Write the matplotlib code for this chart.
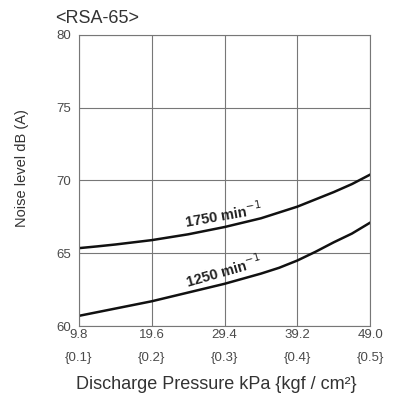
import numpy as np
import matplotlib
matplotlib.use('Agg')
import matplotlib.pyplot as plt

plt.rcParams['font.family'] = ['Liberation Sans', 'DejaVu Sans']

# discharge pressure (kPa) and matching kgf/cm2 labels
pressure_kpa = [9.8, 19.6, 29.4, 39.2, 49.0]
pressure_kgf = ['{0.1}', '{0.2}', '{0.3}', '{0.4}', '{0.5}']

# noise curves read along the pressure axis
x_curve = [9.8, 12.25, 14.7, 17.15, 19.6, 22.05, 24.5, 26.95, 29.4,
           31.85, 34.3, 36.75, 39.2, 41.65, 44.1, 46.55, 49.0]
y_1750 = [65.35, 65.47, 65.6, 65.75, 65.9, 66.1, 66.3, 66.55, 66.8,
          67.1, 67.4, 67.8, 68.2, 68.7, 69.2, 69.75, 70.4]
y_1250 = [60.7, 60.95, 61.2, 61.45, 61.7, 62.0, 62.3, 62.6, 62.9,
          63.25, 63.6, 64.0, 64.5, 65.1, 65.75, 66.35, 67.1]

txt = '#4a4a4a'

fig = plt.figure(figsize=(3.95, 4.01), dpi=100)
ax = fig.add_axes([0.2, 0.187, 0.737, 0.726])

ax.plot(x_curve, y_1750, color='#111111', lw=1.8, solid_joinstyle='round')
ax.plot(x_curve, y_1250, color='#111111', lw=1.8, solid_joinstyle='round')

ax.text(29.3, 67.6, '1750 min$^{-1}$', fontsize=10.5, fontweight='bold', color='#222222',
        rotation=10, ha='center', va='center')
ax.text(29.3, 63.8, '1250 min$^{-1}$', fontsize=10.5, fontweight='bold', color='#222222',
        rotation=16, ha='center', va='center')

ax.set_xlim(9.8, 49.0)
ax.set_ylim(60, 80)
ax.set_xticks(pressure_kpa)
ax.set_xticklabels(['%.1f' % p for p in pressure_kpa])
ax.set_yticks([60, 65, 70, 75, 80])
ax.tick_params(length=0, labelsize=9.5, labelcolor=txt, pad=2)
ax.tick_params(axis='y', pad=6)
ax.grid(True, color='#777777', lw=0.8)
for s in ax.spines.values():
    s.set_color('#777777')
    s.set_linewidth(0.8)

for p, lab in zip(pressure_kpa, pressure_kgf):
    ax.text(p, -0.11, lab, transform=ax.get_xaxis_transform(), fontsize=9.5,
            color=txt, ha='center', va='center')

fig.text(0.547, 0.04, 'Discharge Pressure kPa {kgf / cm²}', fontsize=13,
         color='#333333', ha='center', va='center')
fig.text(0.055, 0.58, 'Noise level dB (A)', fontsize=10.5, color='#333333',
         rotation=90, ha='center', va='center')
fig.text(0.14, 0.955, '<RSA-65>', fontsize=13, color='#333333',
         ha='left', va='center')

fig.savefig('out.png', dpi=100)
